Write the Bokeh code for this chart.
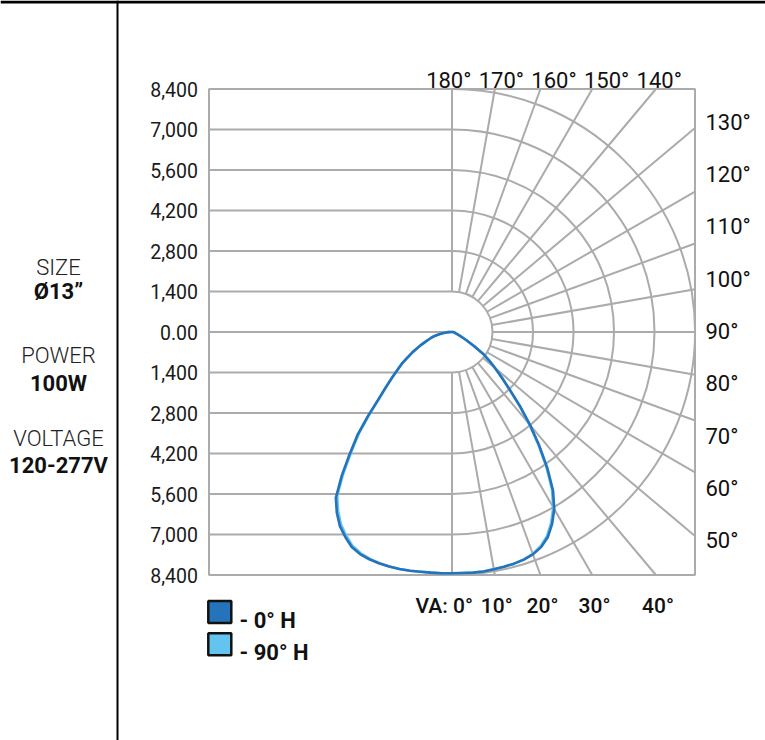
import numpy as np
from bokeh.plotting import figure
from bokeh.models import Range1d, Span
from bokeh.core.properties import value
from bokeh.embed import file_html
from bokeh.resources import INLINE

# ---------------- data ----------------
# vertical angle in degrees (negative = left half of the plane), candela values
vertical_angles = [a / 2 for a in range(-180, 181, 5)]
cd_0H = [35, 120, 210, 330, 450, 590, 730, 830, 970, 1140, 1330, 1560, 1800, 2070, 2320, 2630, 3000, 3460,
         4110, 4840, 5500, 6260, 7000, 7410, 7750, 7990, 8200, 8310, 8360, 8380, 8390, 8390, 8380, 8360, 8350,
         8345,
         8340, 8340, 8350, 8350, 8330, 8310, 8290, 8250, 8180, 8050, 7830, 7490, 7070, 6500, 5750, 4960, 4200,
         3480, 2830, 2350, 1950, 1620, 1320, 900, 590, 410, 290, 210, 160, 120, 100, 90, 70, 60, 50, 40, 35]
cd_90H = [35, 120, 210, 330, 450, 590, 730, 830, 970, 1140, 1330, 1560, 1800, 2070, 2320, 2630, 2980, 3420,
          4050, 4770, 5420, 6180, 6920, 7330, 7680, 7930, 8150, 8270, 8340, 8380, 8390, 8390, 8380, 8360, 8350,
          8345,
          8340, 8340, 8350, 8350, 8330, 8310, 8290, 8250, 8160, 8010, 7780, 7430, 7000, 6430, 5680, 4900, 4150,
          3450, 2810, 2340, 1950, 1620, 1320, 900, 590, 410, 290, 210, 160, 120, 100, 90, 70, 60, 50, 40, 35]
series_names = ["- 0° H", "- 90° H"]
series_colors = ["#2473BB", "#62C3EF"]

y_ticks = [8400, 7000, 5600, 4200, 2800, 1400, 0, -1400, -2800, -4200, -5600, -7000, -8400]
y_tick_labels = ["8,400", "7,000", "5,600", "4,200", "2,800", "1,400", "0.00",
                 "1,400", "2,800", "4,200", "5,600", "7,000", "8,400"]
ring_values = [1400, 2800, 4200, 5600, 7000, 8400]
grid_angles = list(range(0, 181, 10))
top_angle_labels = ["180°", "170°", "160°", "150°", "140°"]
right_angle_labels = ["130°", "120°", "110°", "100°", "90°", "80°", "70°", "60°", "50°"]
bottom_angle_labels = ["VA: 0°", "10°", "20°", "30°", "40°"]
spec_titles = ["SIZE", "POWER", "VOLTAGE"]
spec_values = ["Ø13”", "100W", "120-277V"]

# ---------------- layout helpers ----------------
W, H = 765, 740
R = 8400.0
S = R / 243.0              # candela per pixel
CX, CY = 451.5, 331.5      # pixel position of polar centre
def X(px):
    return (np.asarray(px, dtype=float) - CX) * S
def Y(py):
    return (CY - np.asarray(py, dtype=float)) * S

GRID = "#ABABAB"
FONT = value("Roboto")

p = figure(width=W, height=H, x_range=Range1d(float(X(0)), float(X(W))), y_range=Range1d(float(Y(H)), float(Y(0))),
           output_backend="svg", toolbar_location=None, x_axis_location=None, y_axis_location=None,
           min_border=0, outline_line_color=None, background_fill_color="white", border_fill_color="white")
try:
    p.xgrid.visible = False
    p.ygrid.visible = False
except Exception:
    pass

# page frame lines
p.add_layout(Span(location=float(Y(1.5)), dimension="width", line_color="black", line_width=3))
p.add_layout(Span(location=float(X(117)), dimension="height", line_color="black", line_width=2))

# ---------------- polar grid ----------------
yt = np.array(y_ticks, dtype=float)
p.segment(x0=-R, y0=yt, x1=0, y1=yt, line_color=GRID, line_width=2)
p.arc(x=[0] * len(ring_values), y=[0] * len(ring_values), radius=ring_values,
      start_angle=-np.pi / 2, end_angle=np.pi / 2, line_color=GRID, line_width=2)
ga = np.radians(grid_angles)
ux, uy = np.sin(ga), -np.cos(ga)
tmax = R / np.maximum(np.abs(ux), np.abs(uy))
r0 = ring_values[0]
p.segment(x0=r0 * ux, y0=r0 * uy, x1=tmax * ux, y1=tmax * uy, line_color=GRID, line_width=2)
p.quad(left=-R, right=R, bottom=-R, top=R, fill_color=None, line_color=GRID, line_width=2)

# ---------------- curves ----------------
th = np.radians(vertical_angles)
for cd, col in [(cd_90H, series_colors[1]), (cd_0H, series_colors[0])]:
    r = np.array(cd, dtype=float)
    xs = r * np.sin(th)
    ys = -r * np.cos(th)
    xs = np.append(xs, xs[0])
    ys = np.append(ys, ys[0])
    p.line(xs, ys, line_color=col, line_width=2.6, line_join="round")

# ---------------- tick labels ----------------
p.text(x=X([197.5] * len(y_ticks)), y=yt, text=y_tick_labels, text_font=FONT, text_font_size="19.5px",
       text_align="right", text_baseline="middle", text_color="#1a1a1a")
n = len(top_angle_labels)
p.text(x=X(448.3 + 52.6 * np.arange(n)), y=Y([79.5] * n), text=top_angle_labels, text_font=FONT,
       text_font_size="22px", text_align="center", text_baseline="alphabetic", text_color="#111111")
n = len(right_angle_labels)
p.text(x=X([705] * n), y=Y(121.7 + 52.3 * np.arange(n)), text=right_angle_labels, text_font=FONT,
       text_font_size="22px", text_align="left", text_baseline="middle", text_color="#111111")
bx = [472.5, 496.3, 542.0, 594.0, 657.5]
ba = ["right", "center", "center", "center", "center"]
p.text(x=X(bx), y=Y([605] * len(bx)), text=bottom_angle_labels, text_font=value("Roboto Medium"),
       text_font_size="21px", text_align=ba, text_baseline="alphabetic", text_color="#111111")

# ---------------- legend ----------------
ly = np.array([611.5, 643.7])
p.rect(x=X([219.3] * 2), y=Y(ly), width=23, height=22, width_units="screen", height_units="screen",
       fill_color=[series_colors[0], "#64C4F0"], line_color="#111111", line_width=2.5)
p.text(x=X([239] * 2), y=Y(ly + 8), text=series_names, text_font=FONT, text_font_style="bold",
       text_font_size="22px", text_align="left", text_baseline="alphabetic", text_color="#111111")

# ---------------- spec panel ----------------
p.text(x=X([58] * 3), y=Y([266.7, 355.0, 438.0]), text=spec_titles, text_font=value("Roboto Light"),
       text_font_size="22px", text_align="center", text_baseline="alphabetic", text_color="#222222")
p.text(x=X([58] * 3), y=Y([291.0, 383.0, 465.0]), text=spec_values, text_font=FONT,
       text_font_style="bold", text_font_size="22px", text_align="center", text_baseline="alphabetic",
       text_color="#111111")

open("out.html", "w").write(file_html(p, INLINE))
